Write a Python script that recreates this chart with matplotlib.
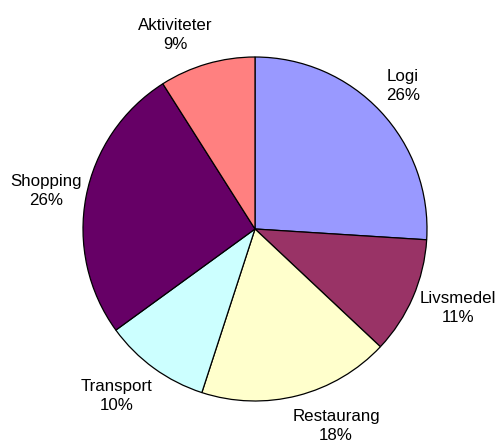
import numpy as np
import matplotlib
matplotlib.use("Agg")
import matplotlib.pyplot as plt

categories = ["Logi", "Livsmedel", "Restaurang", "Transport", "Shopping", "Aktiviteter"]
values = [26, 11, 18, 10, 26, 9]
colors = ["#9999FF", "#993366", "#FFFFCC", "#CCFFFF", "#660066", "#FF8080"]

# layout tweaks for label placement (distance in radii, angle offset in degrees)
label_dist = [1.197, 1.266, 1.238, 1.259, 1.235, 1.219]
label_dang = [0.8, 2.1, 8.0, -3.6, 0.5, 6.1]

plt.rcParams['font.family'] = ['Liberation Sans', 'DejaVu Sans']

W, H = 498, 442
fig = plt.figure(figsize=(W / 100, H / 100), dpi=100)
ax = fig.add_axes([0, 0, 1, 1])
cx, cy, R = 255, 229, 172

wedges, _ = ax.pie(values, colors=colors, startangle=90, counterclock=False,
                   radius=1, center=(0, 0),
                   wedgeprops=dict(edgecolor='black', linewidth=0.9))
ax.set_xlim(-cx / R, (W - cx) / R)
ax.set_ylim(-(H - cy) / R, cy / R)
ax.set_aspect('equal')
ax.axis('off')

total = sum(values)
for w, cat, v, d, da in zip(wedges, categories, values, label_dist, label_dang):
    mid = np.deg2rad((w.theta1 + w.theta2) / 2 + da)
    ax.text(d * np.cos(mid), d * np.sin(mid), f"{cat}\n{round(100 * v / total)}%",
            ha='center', va='center', fontsize=12.2, linespacing=1.35, color='black')

fig.savefig("out.png", dpi=100)
